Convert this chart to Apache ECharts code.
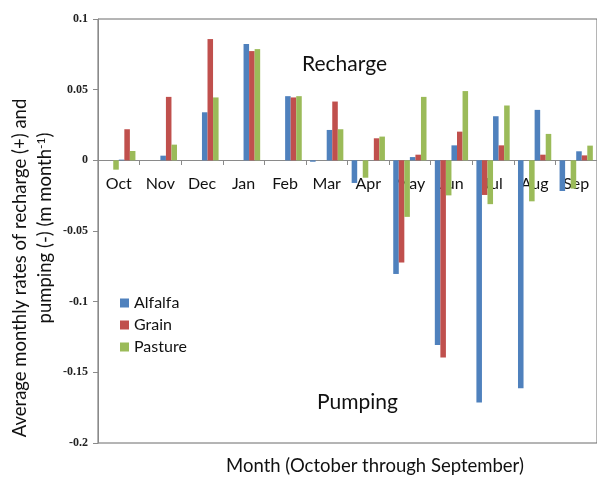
<!DOCTYPE html>
<html><head><meta charset="utf-8">
<script src="https://cdn.jsdelivr.net/npm/echarts@6/dist/echarts.min.js"></script>
<style>html,body{margin:0;padding:0;background:#fff}#c{width:597px;height:478px}</style>
</head><body><div id="c"></div>
<script>
const months = ['Oct','Nov','Dec','Jan','Feb','Mar','Apr','May','Jun','Jul','Aug','Sep'];
const seriesNames = ['Alfalfa','Grain','Pasture'];
const alfalfaRecharge = [0.0005, 0.0033, 0.034, 0.0823, 0.0454, 0.0215, 0, 0.0023, 0.0106, 0.0312, 0.0357, 0.0064];
const grainRecharge   = [0.022, 0.0449, 0.0858, 0.0773, 0.0445, 0.0416, 0.0156, 0.004, 0.0203, 0.0106, 0.004, 0.0035];
const pastureRecharge = [0.0066, 0.0111, 0.0445, 0.0787, 0.0454, 0.022, 0.0168, 0.0449, 0.049, 0.0388, 0.0187, 0.0104];
const alfalfaPumping  = [0, 0, 0, 0, 0, -0.001, -0.016, -0.0804, -0.1307, -0.1714, -0.1613, -0.0217];
const grainPumping    = [0, 0, 0, 0, 0, 0, 0, -0.0723, -0.1395, -0.0245, 0, 0];
const pasturePumping  = [-0.0066, 0, 0, 0, 0, 0, -0.0123, -0.04, -0.0248, -0.031, -0.029, -0.020];
const yTicks = [-0.2, -0.15, -0.1, -0.05, 0, 0.05, 0.1];

const colors = {Alfalfa:'#4F81BD', Grain:'#C0504D', Pasture:'#9BBB59'};
const el = document.getElementById('c');
const chart = echarts.init(el);
const gridTop = 19, gridBottom = 35, H = 478;
const yMin = yTicks[0], yMax = yTicks[yTicks.length-1];
const plotH = H - gridTop - gridBottom;
// distance from bottom of plot to value zero, through the axis scale
const zeroOffset = -Math.round((0 - yMin) / (yMax - yMin) * plotH);
function bar(name, data){
  return {name, type:'bar', data, barGap:'0%', barCategoryGap:'20%',
    itemStyle:{color:colors[name]}, z: 3};
}
const font = 'Lato, "Open Sans", sans-serif';
chart.setOption({
  animation:false,
  color:[colors.Alfalfa, colors.Grain, colors.Pasture],
  grid:{left:98, top:gridTop, right:-5, bottom:gridBottom, show:true, borderColor:'#6b6b6b', borderWidth:1},
  legend:{data:seriesNames, orient:'vertical', left:115, top:290, itemWidth:9, itemHeight:9, itemGap:6,
    icon:'rect', textStyle:{fontFamily:font, fontSize:16, color:'#111'}},
  xAxis:{type:'category', data:months, offset:zeroOffset,
    axisLine:{onZero:false, lineStyle:{color:'#8a8a8a'}},
    axisTick:{show:true, length:5, lineStyle:{color:'#8a8a8a'}},
    axisLabel:{fontFamily:font, fontSize:16, color:'#111', margin:16, interval:0},
    z: 1},
  yAxis:{type:'value', min:yMin, max:yMax, interval:0.05,
    axisLine:{show:true, lineStyle:{color:'#8a8a8a'}},
    axisTick:{show:true, length:5, lineStyle:{color:'#8a8a8a'}},
    splitLine:{show:false},
    axisLabel:{fontFamily:'"Liberation Serif", serif', fontWeight:'bold', fontSize:12, color:'#222', margin:10,
      formatter:v=>String(+v.toFixed(2))}},
  graphic:[
    {type:'text', left:302, top:54, style:{text:'Recharge', font:'21px '+font, fill:'#111'}},
    {type:'text', left:317, top:392, style:{text:'Pumping', font:'21px '+font, fill:'#111'}},
    {type:'text', x:375, y:466, style:{text:'Month (October through September)', font:'18.5px '+font, fill:'#111', align:'center', verticalAlign:'middle'}},
    {type:'text', x:20, y:268, rotation:Math.PI/2, style:{text:'Average monthly rates of recharge (+) and', font:'18.5px '+font, fill:'#111', align:'center', verticalAlign:'middle'}},
    {type:'text', x:45, y:228, rotation:Math.PI/2, style:{text:'pumping (-) (m month{s|-1})', font:'18.5px '+font, fill:'#111', align:'center', verticalAlign:'middle',
      rich:{s:{font:'12px '+font, fill:'#111', verticalAlign:'top', padding:[0,0,8,0]}}}}
  ],
  series:[
    bar('Alfalfa', alfalfaPumping), bar('Grain', grainPumping), bar('Pasture', pasturePumping),
    bar('Alfalfa', alfalfaRecharge), bar('Grain', grainRecharge), bar('Pasture', pastureRecharge)
  ]
});
</script></body></html>
